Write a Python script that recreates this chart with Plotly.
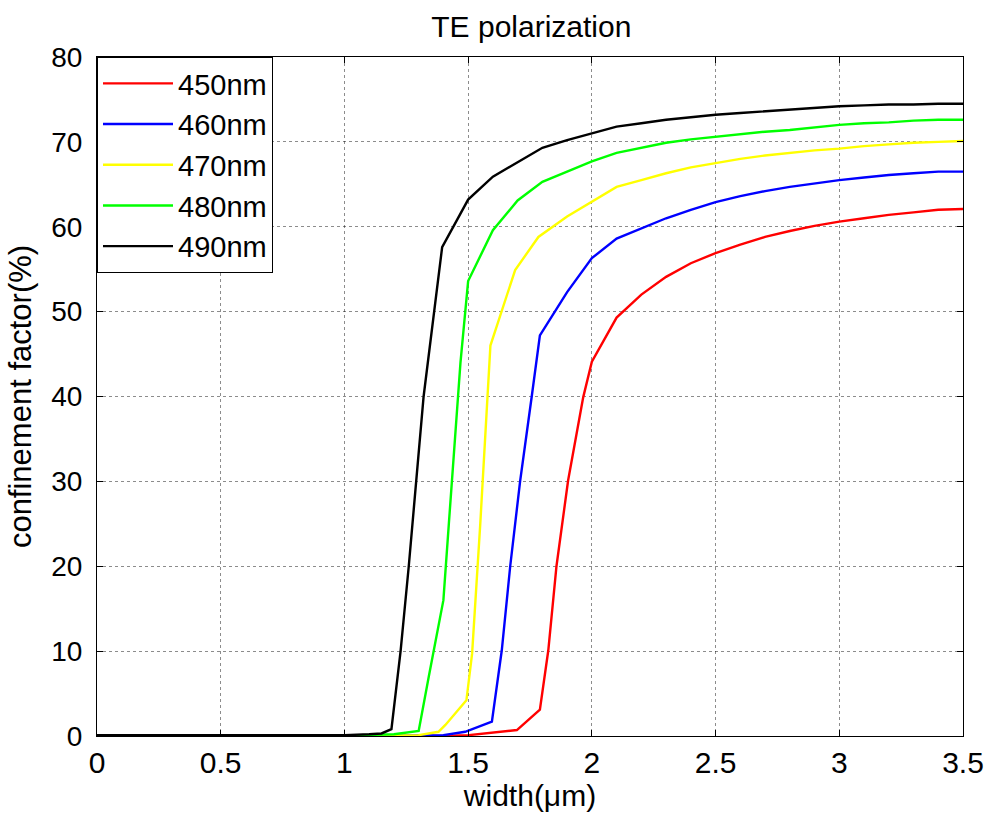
import plotly.graph_objects as go

# Confinement factor (%) of the TE mode versus waveguide width (um), one curve per wavelength
wavelengths = ["450nm", "460nm", "470nm", "480nm", "490nm"]
colors = ["#ff0000", "#0000ff", "#ffff00", "#00ff00", "#000000"]

width_450 = [0, 1.0, 1.4, 1.502, 1.623, 1.697, 1.79, 1.824, 1.857, 1.904, 1.965, 2.0, 2.1, 2.2,
             2.3, 2.4, 2.5, 2.6, 2.7, 2.8, 2.9, 3.0, 3.1, 3.2, 3.3, 3.4, 3.5]
conf_450 = [0, 0, 0, 0.1, 0.5, 0.7, 3.1, 10.1, 20, 30.1, 39.9, 44.1, 49.3, 52.0,
            54.1, 55.7, 56.9, 57.9, 58.8, 59.5, 60.1, 60.6, 61.0, 61.4, 61.7, 62.0, 62.1]

width_460 = [0, 1.0, 1.4, 1.488, 1.596, 1.636, 1.67, 1.71, 1.757, 1.79, 1.9, 2.0, 2.1, 2.2,
             2.3, 2.4, 2.5, 2.6, 2.7, 2.8, 2.9, 3.0, 3.1, 3.2, 3.3, 3.4, 3.5]
conf_460 = [0.01, 0.01, 0.1, 0.5, 1.7, 10.1, 20, 30, 40, 47.2, 52.3, 56.3, 58.6, 59.8,
            61.0, 62.0, 62.9, 63.6, 64.2, 64.7, 65.1, 65.5, 65.8, 66.1, 66.3, 66.5, 66.5]

width_470 = [0, 1.0, 1.3, 1.38, 1.408, 1.493, 1.516, 1.549, 1.59, 1.69, 1.784, 1.9, 2.0, 2.1,
             2.2, 2.3, 2.4, 2.5, 2.6, 2.7, 2.8, 2.9, 3.0, 3.1, 3.2, 3.3, 3.4, 3.5]
conf_470 = [0.02, 0.02, 0.1, 0.5, 1.3, 4.2, 9.7, 25, 46, 54.9, 58.8, 61.2, 63.0, 64.7,
            65.5, 66.3, 67.0, 67.5, 68.0, 68.4, 68.7, 69.0, 69.2, 69.5, 69.7, 69.9, 70.0, 70.1]

width_480 = [0, 1.0, 1.2, 1.3, 1.341, 1.4, 1.422, 1.469, 1.5, 1.6, 1.7, 1.8, 1.9, 2.0, 2.1,
             2.2, 2.3, 2.4, 2.5, 2.6, 2.7, 2.8, 2.9, 3.0, 3.1, 3.2, 3.3, 3.4, 3.5]
conf_480 = [0.05, 0.05, 0.2, 0.6, 7, 16, 25, 44, 53.6, 59.6, 63.1, 65.3, 66.5, 67.7, 68.7,
            69.3, 69.9, 70.3, 70.6, 70.9, 71.2, 71.4, 71.7, 72.0, 72.2, 72.3, 72.5, 72.6, 72.6]

width_490 = [0, 1.0, 1.1, 1.15, 1.19, 1.227, 1.26, 1.32, 1.395, 1.45, 1.5, 1.6, 1.7, 1.8,
             1.9, 2.0, 2.1, 2.2, 2.3, 2.4, 2.5, 2.6, 2.7, 2.8, 2.9, 3.0, 3.1, 3.2, 3.3, 3.4, 3.5]
conf_490 = [0.1, 0.1, 0.2, 0.3, 0.8, 10, 20, 40, 57.6, 60.6, 63.2, 65.9, 67.6, 69.3,
            70.2, 71.0, 71.8, 72.2, 72.6, 72.9, 73.2, 73.4, 73.6, 73.8, 74.0, 74.2, 74.3,
            74.4, 74.4, 74.5, 74.5]

widths = [width_450, width_460, width_470, width_480, width_490]
confs = [conf_450, conf_460, conf_470, conf_480, conf_490]

x_ticks = [0, 0.5, 1, 1.5, 2, 2.5, 3, 3.5]
x_tick_labels = ["0", "0.5", "1", "1.5", "2", "2.5", "3", "3.5"]
y_ticks = [0, 10, 20, 30, 40, 50, 60, 70, 80]

FONT = "Liberation Sans, Arial, sans-serif"

fig = go.Figure()
for name, color, xs, ys in zip(wavelengths, colors, widths, confs):
    fig.add_trace(go.Scatter(x=xs, y=ys, mode="lines", name=name,
                             line=dict(color=color, width=2.4)))

axis_common = dict(
    showline=True, linecolor="black", linewidth=1, mirror="allticks",
    ticks="inside", ticklen=6, tickcolor="black",
    showgrid=True, gridcolor="rgba(0,0,0,0.45)", griddash="dot", gridwidth=1,
    zeroline=False,
)

fig.update_layout(
    width=996, height=819,
    margin=dict(l=97, r=30, t=57, b=83),
    paper_bgcolor="white", plot_bgcolor="white",
    font=dict(family=FONT, color="black"),
    title=dict(text="TE polarization", x=0.5335, xanchor="center",
               y=1 - 26 / 819, yanchor="middle", yref="container",
               font=dict(size=30, family=FONT)),
    xaxis=dict(range=[0, 3.5], tickvals=x_ticks, ticktext=x_tick_labels,
               tickfont=dict(size=30), ticklabelstandoff=0,
               title=dict(text="width(μm)", font=dict(size=30), standoff=2),
               **axis_common),
    yaxis=dict(range=[0, 80], tickvals=y_ticks,
               tickfont=dict(size=28), ticklabelstandoff=8,
               title=dict(text="confinement factor(%)", font=dict(size=31), standoff=10),
               **axis_common),
    legend=dict(x=0, y=1, xanchor="left", yanchor="top",
                bgcolor="white", bordercolor="black", borderwidth=1,
                font=dict(size=29, family=FONT), tracegroupgap=0,
                itemwidth=70),
    showlegend=True,
)

fig.write_html("out.html")
